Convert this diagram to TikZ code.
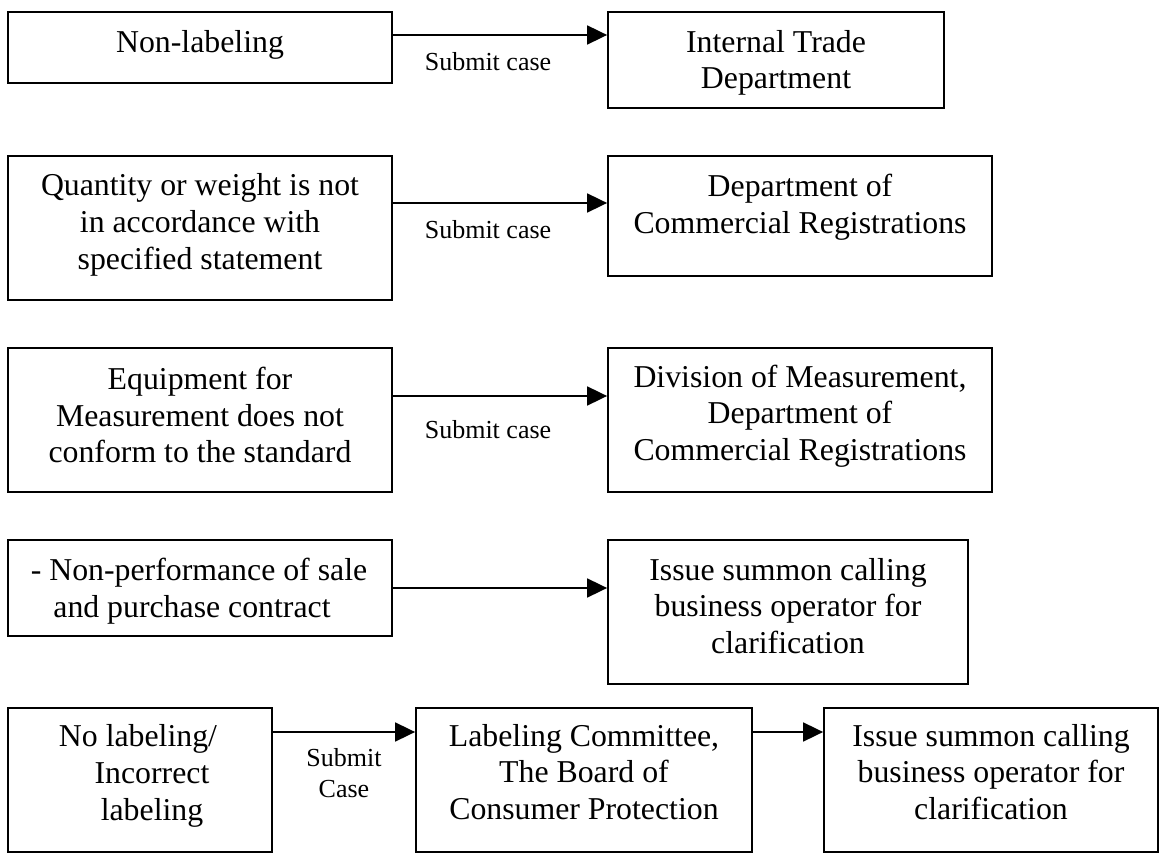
\documentclass[tikz,border=0pt]{standalone}
\usepackage{fontspec}
\setmainfont{Liberation Serif}
\usetikzlibrary{arrows.meta,fit}
\begin{document}
\begin{tikzpicture}[x=0.5pt,y=-0.5pt,
  box/.style={draw, line width=0.9pt, inner sep=0pt},
  txt/.style={align=center, inner sep=0pt, font=\fontsize{15.9pt}{18.35pt}\selectfont},
  lbl/.style={align=center, inner sep=0pt, font=\fontsize{13pt}{15.5pt}\selectfont},
  flow/.style={line width=0.9pt, -{Triangle[length=10pt,width=9.5pt]}}]
\useasboundingbox (0,0) rectangle (1160,854);

% frames
\node[box, fit={(8,12)(392,83)}] (l1) {};
\node[box, fit={(608,12)(944,108)}] (r1) {};
\node[box, fit={(8,156)(392,300)}] (l2) {};
\node[box, fit={(608,156)(992,276)}] (r2) {};
\node[box, fit={(8,348)(392,492)}] (l3) {};
\node[box, fit={(608,348)(992,492)}] (r3) {};
\node[box, fit={(8,540)(392,636)}] (l4) {};
\node[box, fit={(608,540)(968,684)}] (r4) {};
\node[box, fit={(8,708)(272,852)}] (l5) {};
\node[box, fit={(416,708)(752,852)}] (m5) {};
\node[box, fit={(824,708)(1158,852)}] (r5) {};

% texts inside the frames
\node[txt] (tl1) at (200,45) {Non-labeling};
\node[txt] (tr1) at (776,63) {Internal Trade\\Department};
\node[txt] (tl2) at (200,225) {Quantity or weight is not\\in accordance with\\specified statement};
\node[txt] (tr2) at (800,207) {Department of\\Commercial Registrations};
\node[txt] (tl3) at (200,415) {Equipment for\\Measurement does not\\conform to the standard};
\node[txt] (tr3) at (800,416) {Division of Measurement,\\Department of\\Commercial Registrations};
\node[txt] (tl4) at (199,591) {- Non-performance of sale\\and purchase contract\hspace*{7pt}};
\node[txt] (tr4) at (788,606) {Issue summon calling\\business operator for\\clarification};
\node[txt] (tl5) at (138,776) {No labeling/\\\hspace*{14pt}Incorrect\\\hspace*{14pt}labeling};
\node[txt] (tm5) at (584,772) {Labeling Committee,\\The Board of\\Consumer Protection};
\node[txt] (tr5) at (991,772) {Issue summon calling\\business operator for\\clarification};

% connectors
\draw[flow] (l1.east |- 0,35) -- (r1.west |- 0,35);
\draw[flow] (l2.east |- 0,203) -- (r2.west |- 0,203);
\draw[flow] (l3.east |- 0,396) -- (r3.west |- 0,396);
\draw[flow] (l4.east |- 0,588) -- (r4.west |- 0,588);
\draw[flow] (l5.east |- 0,732) -- (m5.west |- 0,732);
\draw[flow] (m5.east |- 0,732) -- (r5.west |- 0,732);

% connector labels
\node[lbl] (s1) at (488,62) {Submit case};
\node[lbl] (s2) at (488,230) {Submit case};
\node[lbl] (s3) at (488,430) {Submit case};
\node[lbl] (s5) at (344,773) {Submit\\Case};
\end{tikzpicture}
\end{document}
